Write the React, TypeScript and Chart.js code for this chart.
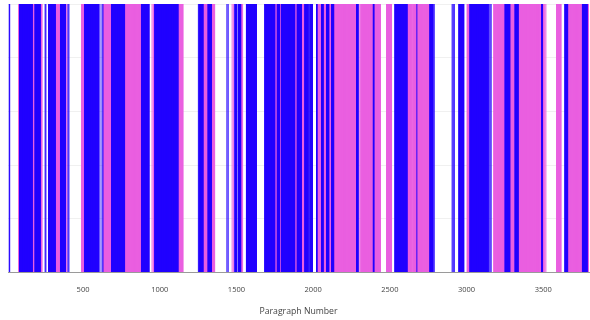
import React, { useEffect, useRef } from 'react';
import { Chart, registerables } from 'chart.js';

Chart.register(...registerables);

// Two paragraph classes (blue / magenta)
const classNames = ['Class A', 'Class B'];
const classColors = ['#2200ff', '#ea60e0'];

// Runs of consecutive paragraphs belonging to one class (inclusive ranges)
const runStart = [
  19, 22, 80, 85, 87, 170, 186, 189, 222, 253, 258, 276, 320, 353, 390, 395, 402, 408,
  490, 496, 511, 521, 523, 536, 538, 610, 624, 630, 635, 686, 772,
  881, 889, 892, 901, 904, 916, 919, 950, 958, 963, 968, 1120,
  1252, 1258, 1261, 1283, 1315, 1338, 1438, 1446, 1472, 1482, 1490, 1511, 1533, 1540,
  1565, 1590, 1608, 1685, 1751, 1766, 1783, 1794, 1811, 1815, 1819, 1823, 1881, 1896,
  1925, 1946, 1972, 1979, 2022, 2026, 2055, 2066, 2088, 2103, 2120, 2135,
  2283, 2287, 2291, 2300, 2308, 2316, 2392, 2397, 2479, 2533, 2613, 2647, 2652,
  2676, 2680, 2685, 2761, 2783, 2789, 2906, 2913, 2920, 2950, 3004, 3022,
  3146, 3153, 3160, 3178, 3251, 3283, 3316, 3337, 3490, 3496, 3510, 3517,
  3587, 3641, 3660, 3755, 3787,
];
const runEnd = [
  19, 22, 80, 85, 169, 182, 186, 221, 232, 253, 258, 319, 352, 386, 390, 395, 402, 408,
  490, 510, 520, 522, 535, 537, 602, 610, 624, 630, 685, 771, 880,
  888, 891, 900, 903, 915, 918, 930, 950, 958, 967, 1119, 1151,
  1252, 1258, 1282, 1314, 1337, 1358, 1438, 1446, 1472, 1482, 1500, 1528, 1533, 1540,
  1585, 1605, 1630, 1750, 1765, 1782, 1793, 1810, 1814, 1818, 1822, 1880, 1895, 1924,
  1945, 1967, 1972, 1995, 2025, 2054, 2065, 2087, 2102, 2119, 2134, 2282,
  2286, 2290, 2293, 2300, 2308, 2391, 2396, 2439, 2511, 2612, 2641, 2647, 2674,
  2676, 2680, 2760, 2778, 2783, 2789, 2906, 2913, 2920, 2982, 3021, 3141,
  3146, 3153, 3160, 3250, 3282, 3315, 3336, 3489, 3495, 3504, 3510, 3517,
  3615, 3659, 3754, 3786, 3797,
];
const runClass = [
  0, 0, 1, 1, 0, 1, 0, 0, 1, 0, 0, 0, 1, 0, 1, 1, 0, 0,
  1, 1, 0, 1, 0, 1, 0, 0, 0, 0, 1, 0, 1,
  0, 1, 0, 1, 0, 1, 0, 1, 1, 1, 0, 1,
  0, 0, 0, 1, 0, 1, 0, 0, 1, 1, 0, 0, 1, 1,
  0, 0, 0, 0, 1, 0, 1, 0, 1, 0, 1, 0, 1, 0,
  1, 0, 0, 0, 0, 1, 0, 1, 0, 1, 0, 1,
  0, 1, 0, 1, 1, 1, 0, 1, 1, 0, 1, 1, 1,
  0, 1, 1, 0, 0, 0, 0, 0, 0, 0, 1, 0,
  0, 0, 0, 1, 0, 1, 0, 1, 0, 1, 1, 1,
  1, 0, 1, 0, 1,
];

const xTicks = [500, 1000, 1500, 2000, 2500, 3000, 3500];
const xMin = 11;
const xMax = 3798;
const xTitle = 'Paragraph Number';

function buildSeries(cls: number) {
  const pts: { x: number; y: number }[] = [];
  for (let i = 0; i < runStart.length; i++) {
    if (runClass[i] !== cls) continue;
    for (let p = runStart[i]; p <= runEnd[i]; p++) pts.push({ x: p, y: 1 });
  }
  return pts;
}

export default function App() {
  const ref = useRef<HTMLCanvasElement | null>(null);
  useEffect(() => {
    if (!ref.current) return;
    const chart = new Chart(ref.current, {
      type: 'bar',
      data: {
        datasets: classNames.map((name, c) => ({
          label: name,
          data: buildSeries(c),
          backgroundColor: classColors[c],
          borderWidth: 0,
          barThickness: 1,
          inflateAmount: 0,
        })) as any,
      },
      options: {
        animation: false,
        responsive: true,
        maintainAspectRatio: false,
        layout: { padding: { left: 8, right: 1, top: 4, bottom: 0 } },
        plugins: { legend: { display: false }, tooltip: { enabled: false } },
        scales: {
          x: {
            type: 'linear',
            stacked: true,
            min: xMin,
            max: xMax,
            offset: false,
            z: 1,
            grid: { display: false, drawTicks: false },
            border: { display: true, color: '#9a9a9a', width: 1 },
            afterBuildTicks: (axis: any) => {
              axis.ticks = xTicks.map((v) => ({ value: v }));
            },
            ticks: {
              callback: (v: any) => String(v),
              color: '#444',
              font: { family: 'Open Sans', size: 7.5 },
              padding: 12.5,
              maxRotation: 0,
              autoSkip: false,
            },
            title: {
              display: true,
              text: xTitle,
              color: '#444',
              font: { family: 'Open Sans', size: 8.7 },
              padding: { top: 0, bottom: 3 },
            },
          },
          y: {
            min: 0,
            max: 1,
            ticks: { display: false, stepSize: 0.2 },
            grid: { color: '#f0f0f0', drawTicks: false },
            border: { display: false },
          },
        },
      } as any,
    });
    return () => chart.destroy();
  }, []);
  return (
    <div style={{ position: 'absolute', left: 0, top: 0, width: 590, height: 320 }}>
      <canvas ref={ref} />
    </div>
  );
}
